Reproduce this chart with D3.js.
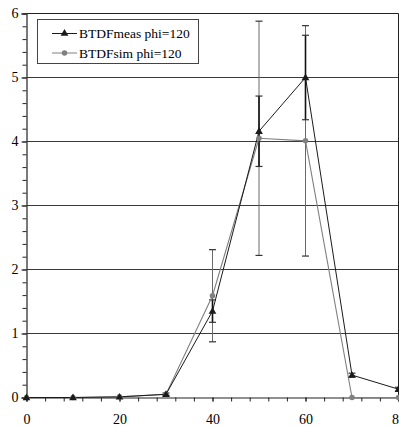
<!DOCTYPE html>
<html>
<head>
<meta charset="utf-8">
<script src="https://cdn.jsdelivr.net/npm/d3@7"></script>
<style>
  html, body { margin: 0; padding: 0; background: #fff; overflow: hidden; }
  svg { display: block; }
</style>
</head>
<body>
<svg id="chart" width="399" height="427"></svg>
<script>
// Incidence angles (x) and BTDF values for phi = 120
const angles = [0, 10, 20, 30, 40, 50, 60, 70, 80];
const measValues = [0, 0, 0.01, 0.05, 1.35, 4.16, 5.0, 0.35, 0.13];
const measErrors = [0, 0, 0, 0.02, 0.175, 0.55, 0.66, 0.03, 0.03];
const simValues = [0, 0, 0.01, 0.05, 1.59, 4.05, 4.01, 0, 0];
const simErrors = [0, 0, 0, 0, 0.72, 1.83, 1.8, 0, 0];
const xTicks = [0, 20, 40, 60, 80];
const yTicks = [0, 1, 2, 3, 4, 5, 6];
const seriesNames = ["BTDFmeas phi=120", "BTDFsim phi=120"];

const serif = "Liberation Serif";
const svg = d3.select("#chart");
const plotLeft = 26.5, plotRight = 398.5, plotTop = 13.5, plotBottom = 397.5;

const x = d3.scaleLinear().domain([0, 80]).range([plotLeft, plotRight]);
const y = d3.scaleLinear().domain([0, 6]).range([plotBottom, plotTop]);

const measColor = "#1a1a1a";
const simColor = "#808080";

// Horizontal gridlines
svg.append("g")
  .selectAll("line")
  .data(yTicks.filter(v => v > 0 && v < 6))
  .join("line")
  .attr("x1", plotLeft).attr("x2", plotRight)
  .attr("y1", d => y(d)).attr("y2", d => y(d))
  .attr("stroke", "#3a3a3a").attr("stroke-width", 1);

// Plot frame (top and right edges)
svg.append("path")
  .attr("d", `M${plotLeft},${plotTop}H${plotRight}V${plotBottom}`)
  .attr("fill", "none").attr("stroke", "#222").attr("stroke-width", 1);

// Y axis: major ticks with labels, minor ticks every 0.2
svg.append("g").attr("transform", `translate(${plotLeft},0)`)
  .call(d3.axisLeft(y).tickValues(yTicks).tickSize(5).tickPadding(3).tickFormat(d3.format("d")));
svg.append("g").attr("transform", `translate(${plotLeft},0)`)
  .call(d3.axisLeft(y).tickValues(d3.range(0, 6.001, 0.2)).tickSize(4).tickFormat(""))
  .select(".domain").remove();

// X axis: labels every 20, minor ticks every 4
svg.append("g").attr("transform", `translate(0,${plotBottom})`)
  .call(d3.axisBottom(x).tickValues(xTicks).tickSize(4).tickPadding(13).tickFormat(d3.format("d")));
svg.append("g").attr("transform", `translate(0,${plotBottom})`)
  .call(d3.axisBottom(x).tickValues(d3.range(0, 80.001, 4)).tickSize(4).tickFormat(""))
  .select(".domain").remove();

svg.selectAll("g").attr("font-family", serif);
svg.selectAll(".tick line").attr("stroke", "#222");
svg.selectAll(".domain").attr("stroke", "#222").attr("stroke-width", 1.2);
svg.selectAll(".tick text")
  .attr("font-family", serif)
  .attr("font-size", 14).attr("fill", "#000");

// Error bars
function errorBars(values, errors, color, width) {
  const g = svg.append("g").attr("stroke", color).attr("stroke-width", width).attr("fill", "none");
  angles.forEach((a, i) => {
    if (errors[i] <= 0) return;
    const cx = x(a), y1 = y(values[i] + errors[i]), y2 = y(values[i] - errors[i]);
    g.append("line").attr("x1", cx).attr("x2", cx).attr("y1", y1).attr("y2", y2);
    g.append("line").attr("x1", cx - 3.5).attr("x2", cx + 3.5).attr("y1", y1).attr("y2", y1)
      .attr("stroke", "#333").attr("stroke-width", 1.2);
    g.append("line").attr("x1", cx - 3.5).attr("x2", cx + 3.5).attr("y1", y2).attr("y2", y2)
      .attr("stroke", "#333").attr("stroke-width", 1.2);
  });
}
errorBars(simValues, simErrors, "#6a6a6a", 1);
errorBars(measValues, measErrors, "#111", 1.6);

// Series lines
const line = vals => d3.line().x((d, i) => x(angles[i])).y(d => y(d))(vals);
svg.append("path").attr("d", line(simValues))
  .attr("fill", "none").attr("stroke", simColor).attr("stroke-width", 1.1);
svg.append("path").attr("d", line(measValues))
  .attr("fill", "none").attr("stroke", measColor).attr("stroke-width", 1);

// Markers
const tri = d3.symbol().type(d3.symbolTriangle).size(26);
const circ = d3.symbol().type(d3.symbolCircle).size(24);
svg.append("g").selectAll("path")
  .data(simValues).join("path")
  .attr("d", circ)
  .attr("transform", (d, i) => `translate(${x(angles[i])},${y(d)})`)
  .attr("fill", simColor);
svg.append("g").selectAll("path")
  .data(measValues).join("path")
  .attr("d", tri)
  .attr("transform", (d, i) => `translate(${x(angles[i])},${y(d) + 0.5})`)
  .attr("fill", measColor);

// Legend
const legend = svg.append("g");
legend.append("rect")
  .attr("x", 37.5).attr("y", 19.5).attr("width", 161).attr("height", 44)
  .attr("fill", "#fff").attr("stroke", "#444").attr("stroke-width", 1);
const entries = [
  { name: seriesNames[0], color: measColor, sym: tri, yy: 33.5 },
  { name: seriesNames[1], color: simColor, sym: circ, yy: 53 }
];
entries.forEach(e => {
  legend.append("line").attr("x1", 52).attr("x2", 77).attr("y1", e.yy).attr("y2", e.yy)
    .attr("stroke", e.color).attr("stroke-width", 1);
  legend.append("path").attr("d", e.sym)
    .attr("transform", `translate(64.5,${e.yy})`).attr("fill", e.color);
  legend.append("text").attr("x", 79).attr("y", e.yy + 4.5)
    .attr("font-family", serif)
    .attr("font-size", 13.5).attr("fill", "#000").text(e.name);
});
</script>
</body>
</html>
